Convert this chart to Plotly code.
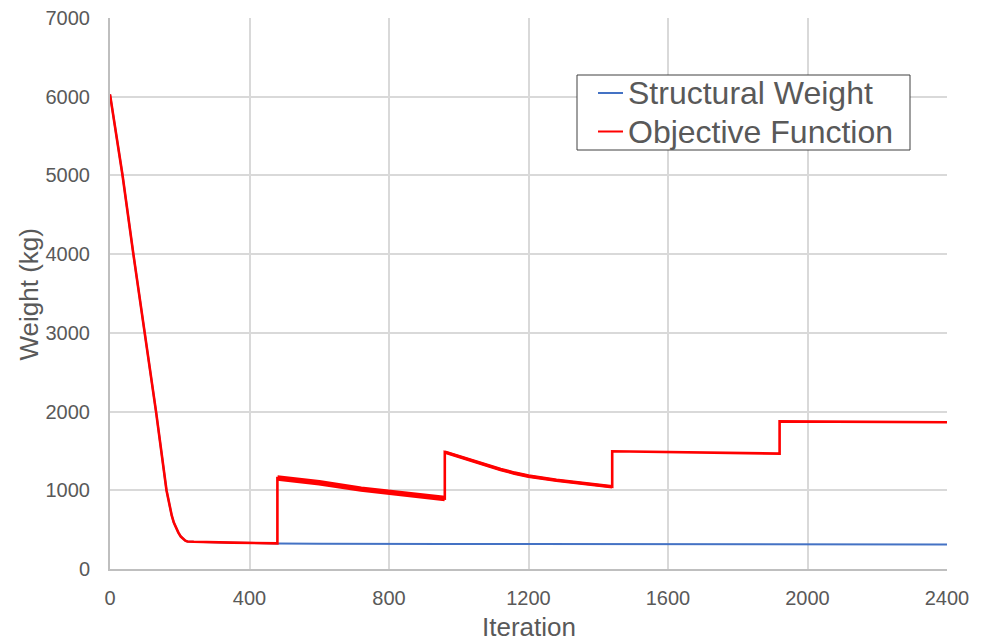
import plotly.graph_objects as go

# Optimisation history: iteration number vs weight (kg)
obj_iter = [0, 36, 67, 100, 132, 162, 170, 177, 183, 189, 196, 203, 210, 216, 222, 240, 350, 420, 480,
            480, 520, 600, 720, 800, 900, 960,
            960, 1000, 1040, 1080, 1120, 1160, 1200, 1280, 1360, 1440,
            1440, 1600, 1750, 1920,
            1920, 2100, 2400]
obj_val = [6030, 5000, 4000, 3000, 2000, 1000, 820, 680, 590, 520, 462, 412, 378, 360, 350, 346, 335, 328, 325,
           1155, 1135, 1095, 1015, 975, 930, 895,
           1485, 1428, 1368, 1312, 1263, 1218, 1180, 1127, 1085, 1045,
           1495, 1485, 1475, 1466,
           1875, 1870, 1865]

N_PRE = 19  # points shared by both series before the first restart
sw_iter = obj_iter[:N_PRE] + [600, 720, 960, 1200, 1440, 1920, 2400]
sw_val = obj_val[:N_PRE] + [320, 316, 317, 317, 314, 312, 311]

x_ticks = [0, 400, 800, 1200, 1600, 2000, 2400]
y_ticks = [0, 1000, 2000, 3000, 4000, 5000, 6000, 7000]

BLUE = "#4472C4"
RED = "#FF0000"
GREY_TEXT = "#595959"
FONT = "Liberation Sans, Arial, sans-serif"

fig = go.Figure()
fig.add_trace(go.Scatter(x=sw_iter, y=sw_val, mode="lines", name="Structural Weight",
                         line=dict(color=BLUE, width=2), showlegend=False))
fig.add_trace(go.Scatter(x=obj_iter, y=obj_val, mode="lines", name="Objective Function",
                         line=dict(color=RED, width=2.6), showlegend=False))
# oscillation bands of the penalised objective after the first two restarts
fig.add_trace(go.Scatter(x=obj_iter[N_PRE:N_PRE + 7], y=obj_val[N_PRE:N_PRE + 7], mode="lines",
                         line=dict(color=RED, width=5.5), showlegend=False, hoverinfo="skip"))
fig.add_trace(go.Scatter(x=obj_iter[N_PRE + 7:N_PRE + 17], y=obj_val[N_PRE + 7:N_PRE + 17], mode="lines",
                         line=dict(color=RED, width=3.6), showlegend=False, hoverinfo="skip"))

W, H = 986, 644
ML, MR, MT, MB = 110, 39, 18, 75
pw, ph = W - ML - MR, H - MT - MB


def px(x):
    return (x - ML) / pw


def py(y):
    return (H - MB - y) / ph


shapes = [
    dict(type="rect", xref="paper", yref="paper", x0=px(577), x1=px(910), y0=py(150), y1=py(75),
         line=dict(color="#404040", width=1), fillcolor="white", layer="above"),
    dict(type="line", xref="paper", yref="paper", x0=px(598), x1=px(623), y0=py(93), y1=py(93),
         line=dict(color=BLUE, width=2), layer="above"),
    dict(type="line", xref="paper", yref="paper", x0=px(598), x1=px(623), y0=py(131.5), y1=py(131.5),
         line=dict(color=RED, width=2), layer="above"),
]
annotations = [
    dict(text="Structural Weight", xref="paper", yref="paper", x=px(626), y=py(93),
         xanchor="left", yanchor="middle", showarrow=False,
         font=dict(family=FONT, size=32, color=GREY_TEXT)),
    dict(text="Objective Function", xref="paper", yref="paper", x=px(626), y=py(131.5),
         xanchor="left", yanchor="middle", showarrow=False,
         font=dict(family=FONT, size=32, color=GREY_TEXT)),
    # axis titles
    dict(text="Iteration", xref="paper", yref="paper", x=px(529), y=py(627),
         xanchor="center", yanchor="middle", showarrow=False,
         font=dict(family=FONT, size=26, color=GREY_TEXT)),
    dict(text="Weight (kg)", xref="paper", yref="paper", x=px(28.5), y=py(295),
         xanchor="center", yanchor="middle", showarrow=False, textangle=-90,
         font=dict(family=FONT, size=26, color=GREY_TEXT)),
]

fig.update_layout(
    width=W, height=H,
    margin=dict(l=ML, r=MR, t=MT, b=MB, autoexpand=False),
    paper_bgcolor="white", plot_bgcolor="white",
    font=dict(family=FONT, color=GREY_TEXT),
    shapes=shapes, annotations=annotations,
    xaxis=dict(range=[0, 2400], tickvals=x_ticks, ticktext=[str(v) for v in x_ticks],
               showgrid=True, gridcolor="#D9D9D9", gridwidth=1.5, automargin=False,
               showline=True, linecolor="#BFBFBF", linewidth=2, zeroline=False,
               ticks="", ticklabelstandoff=10, tickfont=dict(size=20, color=GREY_TEXT)),
    yaxis=dict(range=[0, 7000], tickvals=y_ticks, ticktext=[str(v) for v in y_ticks],
               showgrid=True, gridcolor="#D9D9D9", gridwidth=1.5, automargin=False,
               showline=True, linecolor="#BFBFBF", linewidth=2, zeroline=False,
               ticks="", ticklabelstandoff=14, tickfont=dict(size=20, color=GREY_TEXT)),
)

fig.write_html("out.html")
